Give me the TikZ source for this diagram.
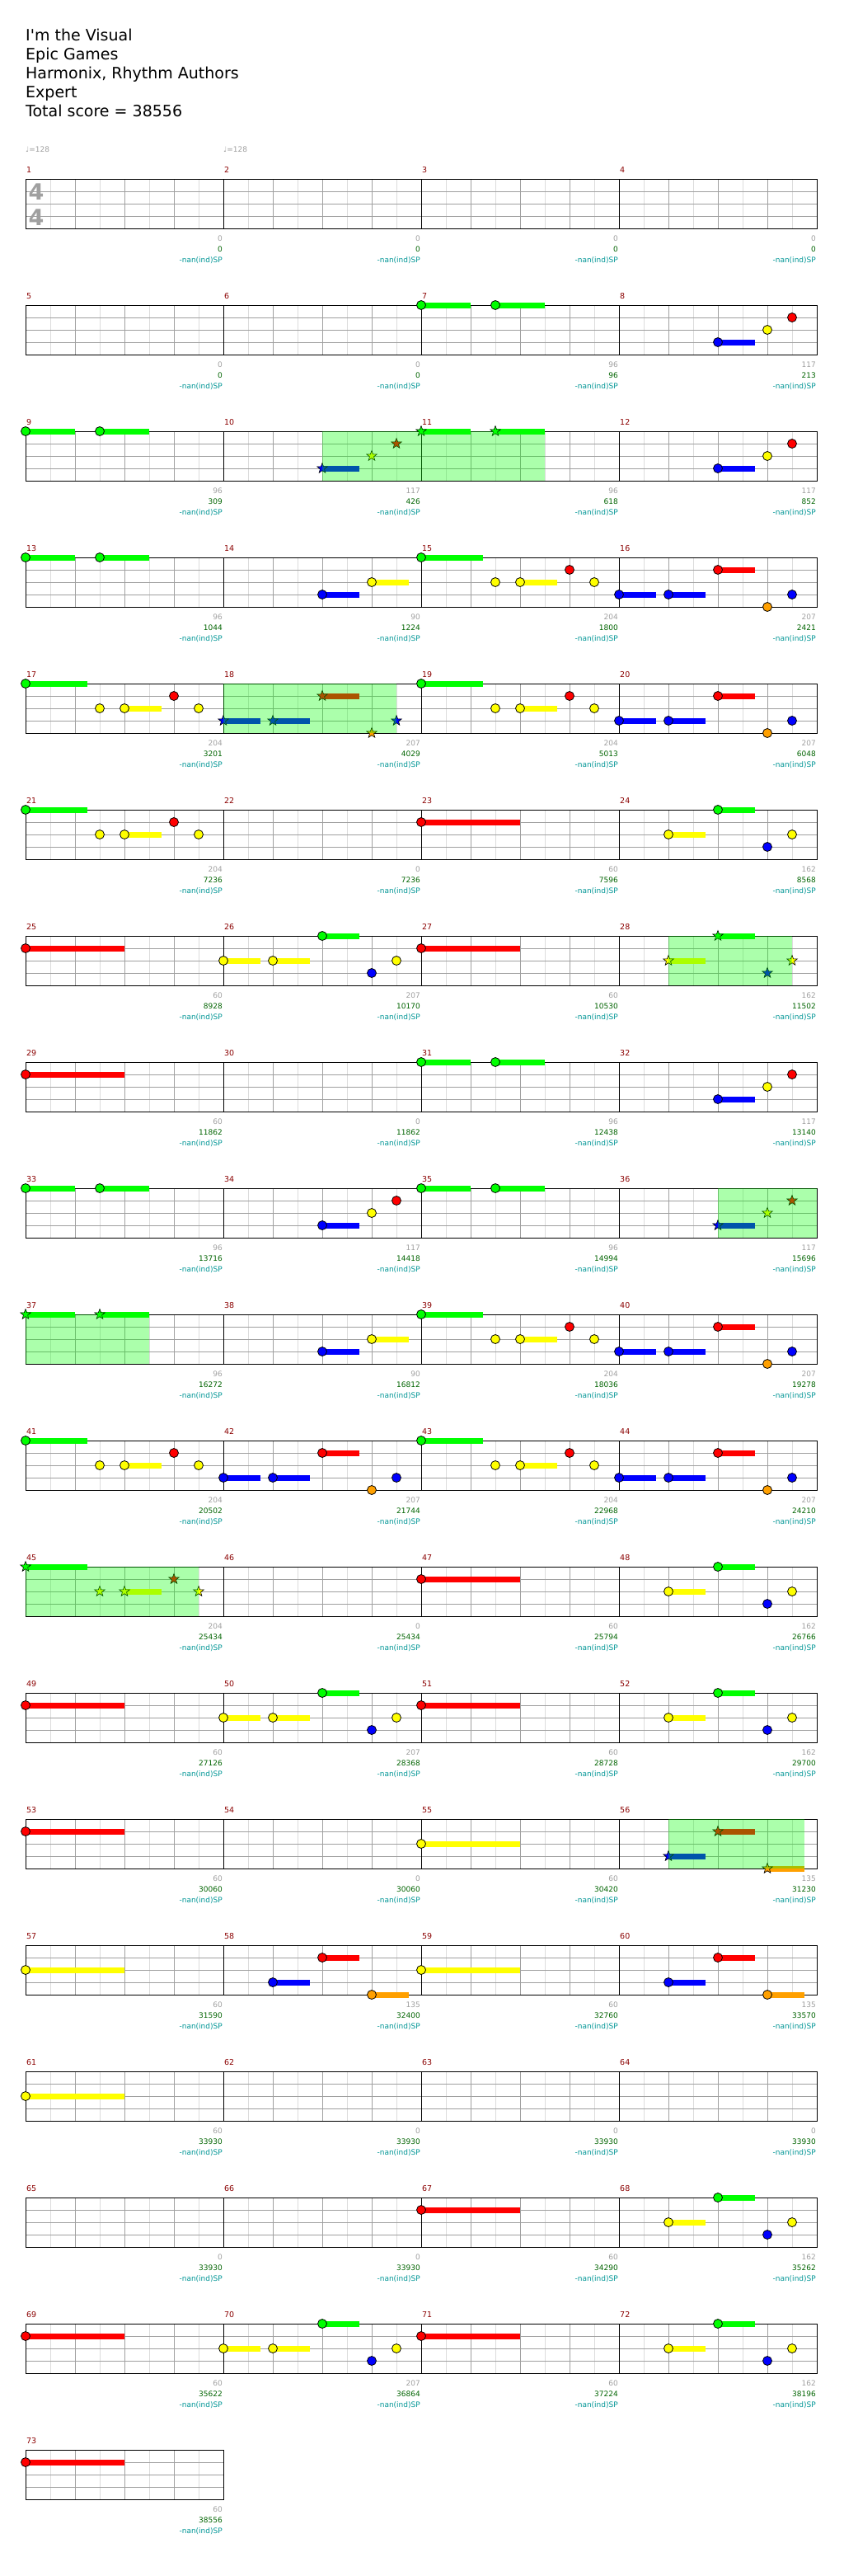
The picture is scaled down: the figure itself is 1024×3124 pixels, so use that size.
\documentclass[tikz,border=0pt]{standalone}
\usepackage{fontspec}
\newfontfamily\chartfont{DejaVu Sans}
\usetikzlibrary{shapes.geometric}
\definecolor{lane0}{RGB}{0,255,0}
\definecolor{lane1}{RGB}{255,0,0}
\definecolor{lane2}{RGB}{255,255,0}
\definecolor{lane3}{RGB}{0,0,255}
\definecolor{lane4}{RGB}{255,160,0}
\definecolor{gridlight}{RGB}{220,220,220}
\definecolor{gridmid}{RGB}{160,160,160}
\definecolor{barred}{RGB}{139,0,0}
\definecolor{gaingray}{RGB}{160,160,160}
\definecolor{totalgreen}{RGB}{0,100,0}
\definecolor{spteal}{RGB}{0,150,150}

\begin{document}
\begin{tikzpicture}[
    x=1pt, y=-1pt,
    title/.style={font=\chartfont\fontsize{19}{22}\selectfont, anchor=base west, inner sep=0pt},
    tempo/.style={font=\chartfont\fontsize{9}{10}\selectfont, text=gaingray, anchor=base west, inner sep=0pt},
    meter/.style={font=\chartfont\bfseries\fontsize{27}{27}\selectfont, text=gaingray, inner sep=0pt},
    barno/.style={font=\chartfont\fontsize{9.5}{10}\selectfont, text=barred, anchor=base west, inner sep=0pt},
    tally/.style={font=\chartfont\fontsize{9}{10}\selectfont, anchor=base east, inner sep=0pt},
    eighth/.style={draw=gridlight, line width=1pt},
    beat/.style={draw=gridmid, line width=1pt},
    gem/.style={circle, draw=black, line width=0.8pt, minimum size=11pt, inner sep=0pt},
    spgem/.style={star, star points=5, star point ratio=2.4, minimum size=13pt, inner sep=0pt, draw=black, line width=0.6pt},
    hold/.style={line width=7pt},
    spzone/.style={fill=green, fill opacity=0.33}
]
\fill[white] (0,0) rectangle (1024,3124);
\useasboundingbox (0,0) rectangle (1024,3124);

\node[title] (song) at (31,49) {I'm the Visual};
\node[title] (artist) at (31,72) {Epic Games};
\node[title] (charter) at (31,95) {Harmonix, Rhythm Authors};
\node[title] (level) at (31,118) {Expert};
\node[title] (score) at (31,141) {Total score = 38556};
\node[tempo] (bpm1) at (31,184) {♩=128};
\node[tempo] (bpm2) at (271,184) {♩=128};

\foreach \row in {0,...,18} {
  \pgfmathsetmacro\rowtop{217+153*\row}
  \pgfmathtruncatemacro\nm{ifthenelse(\row<18,4,1)}
  \pgfmathtruncatemacro\lastodd{8*\nm-1}
  \pgfmathtruncatemacro\lasteven{8*\nm-2}
  \foreach \k in {1,3,...,\lastodd} \draw[eighth] (31+30*\k,\rowtop) -- ++(0,60);
  \foreach \k in {2,4,...,\lasteven} \draw[beat] (31+30*\k,\rowtop) -- ++(0,60);
  \foreach \j in {1,2,3} \draw[beat] (31,\rowtop+15*\j) -- ++(240*\nm,0);
  \foreach \b in {1,...,\nm} \draw[line width=1pt] (240*\b-209,\rowtop) -- ++(0,60);
  \draw[line width=1pt] (31,\rowtop) rectangle ++(240*\nm,60);
}

\node[meter] (sigtop) at (44,233) {4};
\node[meter] (sigbot) at (44,263.5) {4};

\foreach \mno/\pos/\lane/\tail/\boost in {
    7/0/0/2/0, 7/3/0/2/0,
    8/4/3/1.5/0, 8/6/2/0/0, 8/7/1/0/0,
    9/0/0/2/0, 9/3/0/2/0,
    10/4/3/1.5/1, 10/6/2/0/1, 10/7/1/0/1,
    11/0/0/2/1, 11/3/0/2/1,
    12/4/3/1.5/0, 12/6/2/0/0, 12/7/1/0/0,
    13/0/0/2/0, 13/3/0/2/0,
    14/4/3/1.5/0, 14/6/2/1.5/0,
    15/0/0/2.5/0, 15/3/2/0/0, 15/4/2/1.5/0, 15/6/1/0/0, 15/7/2/0/0,
    16/0/3/1.5/0, 16/2/3/1.5/0, 16/4/1/1.5/0, 16/6/4/0/0, 16/7/3/0/0,
    17/0/0/2.5/0, 17/3/2/0/0, 17/4/2/1.5/0, 17/6/1/0/0, 17/7/2/0/0,
    18/0/3/1.5/1, 18/2/3/1.5/1, 18/4/1/1.5/1, 18/6/4/0/1, 18/7/3/0/1,
    19/0/0/2.5/0, 19/3/2/0/0, 19/4/2/1.5/0, 19/6/1/0/0, 19/7/2/0/0,
    20/0/3/1.5/0, 20/2/3/1.5/0, 20/4/1/1.5/0, 20/6/4/0/0, 20/7/3/0/0,
    21/0/0/2.5/0, 21/3/2/0/0, 21/4/2/1.5/0, 21/6/1/0/0, 21/7/2/0/0,
    23/0/1/4/0,
    24/2/2/1.5/0, 24/4/0/1.5/0, 24/6/3/0/0, 24/7/2/0/0,
    25/0/1/4/0,
    26/0/2/1.5/0, 26/2/2/1.5/0, 26/4/0/1.5/0, 26/6/3/0/0, 26/7/2/0/0,
    27/0/1/4/0,
    28/2/2/1.5/1, 28/4/0/1.5/1, 28/6/3/0/1, 28/7/2/0/1,
    29/0/1/4/0,
    31/0/0/2/0, 31/3/0/2/0,
    32/4/3/1.5/0, 32/6/2/0/0, 32/7/1/0/0,
    33/0/0/2/0, 33/3/0/2/0,
    34/4/3/1.5/0, 34/6/2/0/0, 34/7/1/0/0,
    35/0/0/2/0, 35/3/0/2/0,
    36/4/3/1.5/1, 36/6/2/0/1, 36/7/1/0/1,
    37/0/0/2/1, 37/3/0/2/1,
    38/4/3/1.5/0, 38/6/2/1.5/0,
    39/0/0/2.5/0, 39/3/2/0/0, 39/4/2/1.5/0, 39/6/1/0/0, 39/7/2/0/0,
    40/0/3/1.5/0, 40/2/3/1.5/0, 40/4/1/1.5/0, 40/6/4/0/0, 40/7/3/0/0,
    41/0/0/2.5/0, 41/3/2/0/0, 41/4/2/1.5/0, 41/6/1/0/0, 41/7/2/0/0,
    42/0/3/1.5/0, 42/2/3/1.5/0, 42/4/1/1.5/0, 42/6/4/0/0, 42/7/3/0/0,
    43/0/0/2.5/0, 43/3/2/0/0, 43/4/2/1.5/0, 43/6/1/0/0, 43/7/2/0/0,
    44/0/3/1.5/0, 44/2/3/1.5/0, 44/4/1/1.5/0, 44/6/4/0/0, 44/7/3/0/0,
    45/0/0/2.5/1, 45/3/2/0/1, 45/4/2/1.5/1, 45/6/1/0/1, 45/7/2/0/1,
    47/0/1/4/0,
    48/2/2/1.5/0, 48/4/0/1.5/0, 48/6/3/0/0, 48/7/2/0/0,
    49/0/1/4/0,
    50/0/2/1.5/0, 50/2/2/1.5/0, 50/4/0/1.5/0, 50/6/3/0/0, 50/7/2/0/0,
    51/0/1/4/0,
    52/2/2/1.5/0, 52/4/0/1.5/0, 52/6/3/0/0, 52/7/2/0/0,
    53/0/1/4/0,
    55/0/2/4/0,
    56/2/3/1.5/1, 56/4/1/1.5/1, 56/6/4/1.5/1,
    57/0/2/4/0,
    58/2/3/1.5/0, 58/4/1/1.5/0, 58/6/4/1.5/0,
    59/0/2/4/0,
    60/2/3/1.5/0, 60/4/1/1.5/0, 60/6/4/1.5/0,
    61/0/2/4/0,
    67/0/1/4/0,
    68/2/2/1.5/0, 68/4/0/1.5/0, 68/6/3/0/0, 68/7/2/0/0,
    69/0/1/4/0,
    70/0/2/1.5/0, 70/2/2/1.5/0, 70/4/0/1.5/0, 70/6/3/0/0, 70/7/2/0/0,
    71/0/1/4/0,
    72/2/2/1.5/0, 72/4/0/1.5/0, 72/6/3/0/0, 72/7/2/0/0,
    73/0/1/4/0} {
  \pgfmathsetmacro\gx{31+240*mod(\mno-1,4)+30*\pos}
  \pgfmathsetmacro\gy{217+153*floor((\mno-1)/4)+15*\lane}
  \coordinate (c\mno-\pos-\lane) at (\gx,\gy);
  \ifdim\tail pt>0pt \draw[hold, draw=lane\lane] (c\mno-\pos-\lane) -- ++(30*\tail,0); \fi
  \ifnum\boost=1
    \node[spgem, fill=lane\lane] (n\mno-\pos-\lane) at (c\mno-\pos-\lane) {};
  \else
    \node[gem, fill=lane\lane] (n\mno-\pos-\lane) at (c\mno-\pos-\lane) {};
  \fi
}

\foreach \mno/\from/\to in {10/4/8, 11/0/5, 18/0/7, 28/2/7, 36/4/8, 37/0/5, 45/0/7, 56/2/7.5} {
  \pgfmathsetmacro\bx{31+240*mod(\mno-1,4)}
  \pgfmathsetmacro\by{217+153*floor((\mno-1)/4)}
  \fill[spzone] (\bx+30*\from,\by) rectangle (\bx+30*\to,\by+60);
}

\foreach \mno/\gain/\total in {
    1/0/0, 2/0/0, 3/0/0, 4/0/0, 5/0/0, 6/0/0, 7/96/96, 8/117/213,
    9/96/309, 10/117/426, 11/96/618, 12/117/852, 13/96/1044, 14/90/1224,
    15/204/1800, 16/207/2421, 17/204/3201, 18/207/4029, 19/204/5013,
    20/207/6048, 21/204/7236, 22/0/7236, 23/60/7596, 24/162/8568,
    25/60/8928, 26/207/10170, 27/60/10530, 28/162/11502, 29/60/11862,
    30/0/11862, 31/96/12438, 32/117/13140, 33/96/13716, 34/117/14418,
    35/96/14994, 36/117/15696, 37/96/16272, 38/90/16812, 39/204/18036,
    40/207/19278, 41/204/20502, 42/207/21744, 43/204/22968, 44/207/24210,
    45/204/25434, 46/0/25434, 47/60/25794, 48/162/26766, 49/60/27126,
    50/207/28368, 51/60/28728, 52/162/29700, 53/60/30060, 54/0/30060,
    55/60/30420, 56/135/31230, 57/60/31590, 58/135/32400, 59/60/32760,
    60/135/33570, 61/60/33930, 62/0/33930, 63/0/33930, 64/0/33930,
    65/0/33930, 66/0/33930, 67/60/34290, 68/162/35262, 69/60/35622,
    70/207/36864, 71/60/37224, 72/162/38196, 73/60/38556} {
  \pgfmathsetmacro\bx{31+240*mod(\mno-1,4)}
  \pgfmathsetmacro\by{217+153*floor((\mno-1)/4)}
  \node[barno] (bar\mno) at (\bx+1,\by-7.7) {\mno};
  \node[tally, text=gaingray] (gain\mno) at (\bx+239,\by+75.3) {\gain};
  \node[tally, text=totalgreen] (total\mno) at (\bx+239,\by+88) {\total};
  \node[tally, text=spteal] (sp\mno) at (\bx+239,\by+101.7) {-nan(ind)SP};
}
\end{tikzpicture}
\end{document}
